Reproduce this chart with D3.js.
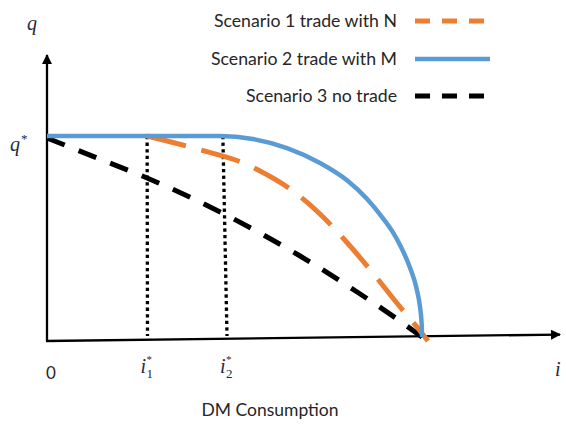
<!DOCTYPE html>
<html>
<head>
<meta charset="utf-8">
<script src="https://cdn.jsdelivr.net/npm/d3@7"></script>
<style>
  body { margin: 0; background: #fff; }
  svg { display: block; }
</style>
</head>
<body>
<svg id="chart" width="566" height="430"></svg>
<script>
// DM consumption q against i for three trade scenarios.
// q is normalised so that q* = 1; i is normalised so that q reaches 0 at i = 1.
const seriesNames = ["Scenario 1 trade with N", "Scenario 2 trade with M", "Scenario 3 no trade"];

const tradeN_i = [0.267, 0.376, 0.421, 0.523, 0.563, 0.656, 0.728, 0.800, 0.867, 0.933, 0.995, 1.016];
const tradeN_q = [1.000, 0.948, 0.925, 0.866, 0.831, 0.726, 0.612, 0.470, 0.323, 0.169, 0.030, -0.020];

const tradeM_i = [0.000, 0.300, 0.461, 0.549, 0.640, 0.728, 0.800, 0.853, 0.895, 0.923, 0.945, 0.968, 0.985, 0.995, 0.999, 1.000];
const tradeM_q = [1.000, 1.000, 1.000, 0.985, 0.940, 0.866, 0.780, 0.688, 0.593, 0.519, 0.444, 0.345, 0.245, 0.145, 0.068, 0.000];

const noTrade_i = [0.000, 0.133, 0.267, 0.488, 0.675, 0.827, 0.907, 1.000];
const noTrade_q = [0.990, 0.891, 0.791, 0.597, 0.403, 0.224, 0.124, 0.000];

// thresholds i1*, i2* (top and foot of each guide line)
const iStarTop = [0.267, 0.469];
const iStarFoot = [0.268, 0.480];

const xTickValues = [0, 0.268, 0.480];
const xTickLabels = [{ base: "0" }, { base: "i", sub: "1", sup: "*" }, { base: "i", sub: "2", sup: "*" }];

// axis extents in data units (the i axis rises slightly to the right)
const iAxisEnd = 1.368;
const qAxisEnd = 1.403;
const iAxisRise = [-0.02, 0.012];

const colors = ["#ED7D31", "#5B9BD5", "#000000"];
const dashes = ["40,16", null, "19,15"];
const legendDashes = ["15,12", null, "15,12"];

const svg = d3.select("#chart");
const x = d3.scaleLinear().domain([0, 1]).range([47, 422]);
const y = d3.scaleLinear().domain([0, 1]).range([337, 136]);

const defs = svg.append("defs");
defs.append("marker")
  .attr("id", "arrow")
  .attr("viewBox", "0 0 10 10")
  .attr("refX", 9).attr("refY", 5)
  .attr("markerWidth", 11).attr("markerHeight", 10)
  .attr("markerUnits", "userSpaceOnUse")
  .attr("orient", "auto")
  .append("path").attr("d", "M0,0 L10,5 L0,10 Z").attr("fill", "#000");

// axes
svg.append("line")
  .attr("x1", x(0)).attr("y1", y(iAxisRise[0]))
  .attr("x2", x(0)).attr("y2", y(qAxisEnd))
  .attr("stroke", "#000").attr("stroke-width", 2.3)
  .attr("marker-end", "url(#arrow)");
svg.append("line")
  .attr("x1", x(0) - 1).attr("y1", y(iAxisRise[0]))
  .attr("x2", x(iAxisEnd)).attr("y2", y(iAxisRise[1]))
  .attr("stroke", "#000").attr("stroke-width", 2.3)
  .attr("marker-end", "url(#arrow)");

// dotted guides at i1*, i2*
svg.selectAll(".guide").data(iStarTop).join("line")
  .attr("class", "guide")
  .attr("x1", d => x(d)).attr("y1", y(1))
  .attr("x2", (d, k) => x(iStarFoot[k])).attr("y2", y(0) - 1)
  .attr("stroke", "#000").attr("stroke-width", 3.3)
  .attr("stroke-dasharray", "3.3,3.3");

const line = d3.line()
  .x(d => x(d[0])).y(d => y(d[1]))
  .curve(d3.curveMonotoneX);

const series = [
  d3.zip(tradeN_i, tradeN_q),
  d3.zip(tradeM_i, tradeM_q),
  d3.zip(noTrade_i, noTrade_q)
];

// draw no-trade first, then trade with N, then trade with M on top
[2, 0, 1].forEach(k => {
  svg.append("path")
    .attr("d", line(series[k]))
    .attr("fill", "none")
    .attr("stroke", colors[k])
    .attr("stroke-width", k === 1 ? 4.5 : 5)
    .attr("stroke-dasharray", dashes[k]);
});

const textFont = "Lato, 'Open Sans', sans-serif";

// legend
const legendY = [21, 59, 96];
const lg = svg.append("g").attr("font-family", textFont).attr("font-size", 17.7).attr("fill", "#262626");
seriesNames.forEach((name, k) => {
  lg.append("text")
    .attr("x", 397).attr("y", legendY[k] + 6)
    .attr("text-anchor", "end")
    .text(name);
  lg.append("line")
    .attr("x1", 415).attr("x2", 490)
    .attr("y1", legendY[k]).attr("y2", legendY[k])
    .attr("stroke", colors[k])
    .attr("stroke-width", k === 1 ? 4.5 : 5)
    .attr("stroke-dasharray", legendDashes[k]);
});

// tick labels on the i axis
const mathFont = "'Liberation Serif', 'DejaVu Serif', serif";
const ticks = svg.append("g");
xTickValues.forEach((v, k) => {
  const lab = xTickLabels[k];
  if (!lab.sub) {
    ticks.append("text")
      .attr("x", x(v) - 1).attr("y", 379)
      .attr("font-family", textFont).attr("font-size", 17).attr("fill", "#262626")
      .text(lab.base);
    return;
  }
  const g = ticks.append("g")
    .attr("transform", `translate(${x(v) - 7},373)`)
    .attr("font-family", mathFont).attr("fill", "#1f2a44");
  g.append("text").attr("font-size", 20).attr("font-style", "italic").text(lab.base);
  g.append("text").attr("x", 6).attr("y", -10).attr("font-size", 11).text(lab.sup);
  g.append("text").attr("x", 6).attr("y", 5).attr("font-size", 13).text(lab.sub);
});

// axis titles
svg.append("text")
  .attr("x", 555).attr("y", 376)
  .attr("font-family", mathFont).attr("font-style", "italic").attr("font-size", 20)
  .attr("fill", "#1f2a44").text("i");
svg.append("text")
  .attr("x", 27).attr("y", 30)
  .attr("font-family", mathFont).attr("font-style", "italic").attr("font-size", 20)
  .attr("fill", "#1f2a44").text("q");
const qs = svg.append("text")
  .attr("x", 10).attr("y", 151)
  .attr("font-family", mathFont).attr("font-size", 20)
  .attr("fill", "#1f2a44");
qs.append("tspan").attr("font-style", "italic").text("q");
qs.append("tspan").attr("font-size", 13).attr("dy", -8).attr("dx", 1).text("*");

svg.append("text")
  .attr("x", 270).attr("y", 416)
  .attr("text-anchor", "middle")
  .attr("font-family", textFont).attr("font-size", 17.5)
  .attr("fill", "#262626")
  .text("DM Consumption");
</script>
</body>
</html>
